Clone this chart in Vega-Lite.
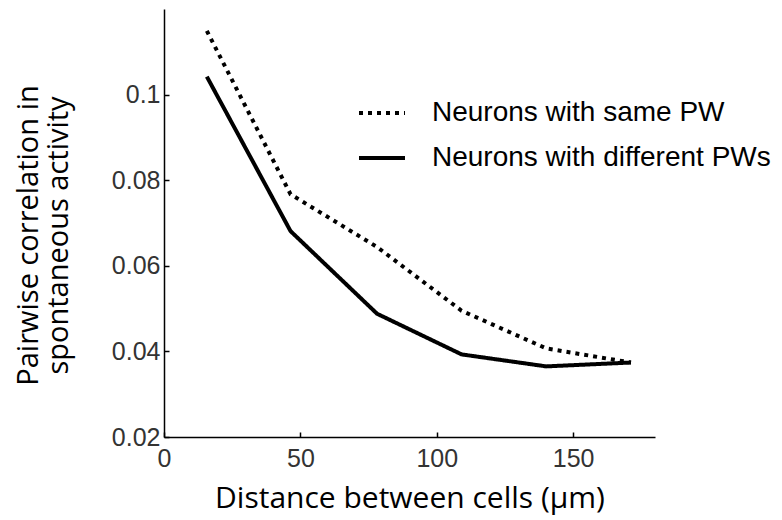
{
  "$schema": "https://vega.github.io/schema/vega-lite/v6.json",
  "autosize": "none",
  "padding": {"left": 164, "top": 9, "right": 127, "bottom": 83},
  "width": 491,
  "height": 428,
  "background": "white",
  "config": {
    "view": {"stroke": null},
    "axis": {
      "grid": false,
      "domainColor": "black",
      "domainWidth": 1.5,
      "tickColor": "black",
      "tickWidth": 1.5,
      "tickSize": -5,
      "labelFlush": false,
      "labelFont": "Liberation Sans",
      "labelFontSize": 25,
      "labelColor": "#333333",
      "titleFont": "Open Sans",
      "titleFontSize": 30,
      "titleFontWeight": "normal",
      "titleColor": "black"
    }
  },
  "data": {
    "values": [
      {"distance": 15.7, "corr": 0.1149, "type": "Neurons with same PW"},
      {"distance": 46.4, "corr": 0.0767, "type": "Neurons with same PW"},
      {"distance": 78.1, "corr": 0.0644, "type": "Neurons with same PW"},
      {"distance": 109.1, "corr": 0.0495, "type": "Neurons with same PW"},
      {"distance": 140.1, "corr": 0.0407, "type": "Neurons with same PW"},
      {"distance": 171.2, "corr": 0.0374, "type": "Neurons with same PW"},
      {"distance": 15.7, "corr": 0.1042, "type": "Neurons with different PWs"},
      {"distance": 46.4, "corr": 0.0681, "type": "Neurons with different PWs"},
      {"distance": 78.1, "corr": 0.0488, "type": "Neurons with different PWs"},
      {"distance": 109.1, "corr": 0.0393, "type": "Neurons with different PWs"},
      {"distance": 140.1, "corr": 0.0365, "type": "Neurons with different PWs"},
      {"distance": 171.2, "corr": 0.0374, "type": "Neurons with different PWs"}
    ]
  },
  "mark": {"type": "line", "color": "black", "strokeWidth": 4, "strokeCap": "butt"},
  "encoding": {
    "x": {
      "field": "distance",
      "type": "quantitative",
      "scale": {"domain": [0, 180], "nice": false, "zero": false},
      "axis": {
        "values": [0, 50, 100, 150],
        "title": "Distance between cells (μm)",
        "labelPadding": 14,
        "titleBaseline": "alphabetic",
        "titleY": 70
      }
    },
    "y": {
      "field": "corr",
      "type": "quantitative",
      "scale": {"domain": [0.02, 0.12], "nice": false, "zero": false},
      "axis": {
        "values": [0.02, 0.04, 0.06, 0.08, 0.1],
        "labelExpr": "format(datum.value, '.2~f')",
        "labelPadding": 9,
        "title": ["Pairwise correlation in", "spontaneous activity"],
        "titleFontSize": 29,
        "titleLineHeight": 30,
        "titleBaseline": "alphabetic",
        "titleAngle": -90,
        "titleX": -127,
        "titleY": 226,
        "titleAlign": "center"
      }
    },
    "strokeDash": {
      "field": "type",
      "type": "nominal",
      "scale": {
        "domain": ["Neurons with same PW", "Neurons with different PWs"],
        "range": [[4, 5], [1, 0]]
      },
      "legend": {
        "title": null,
        "orient": "none",
        "legendX": 193,
        "legendY": 79,
        "padding": 0,
        "symbolType": "stroke",
        "symbolSize": 2116,
        "symbolStrokeWidth": 4,
        "symbolStrokeColor": "black",
        "labelFont": "Liberation Sans",
        "labelFontSize": 28,
        "labelColor": "black",
        "labelLimit": 0,
        "labelOffset": 25,
        "rowPadding": 6
      }
    }
  }
}
